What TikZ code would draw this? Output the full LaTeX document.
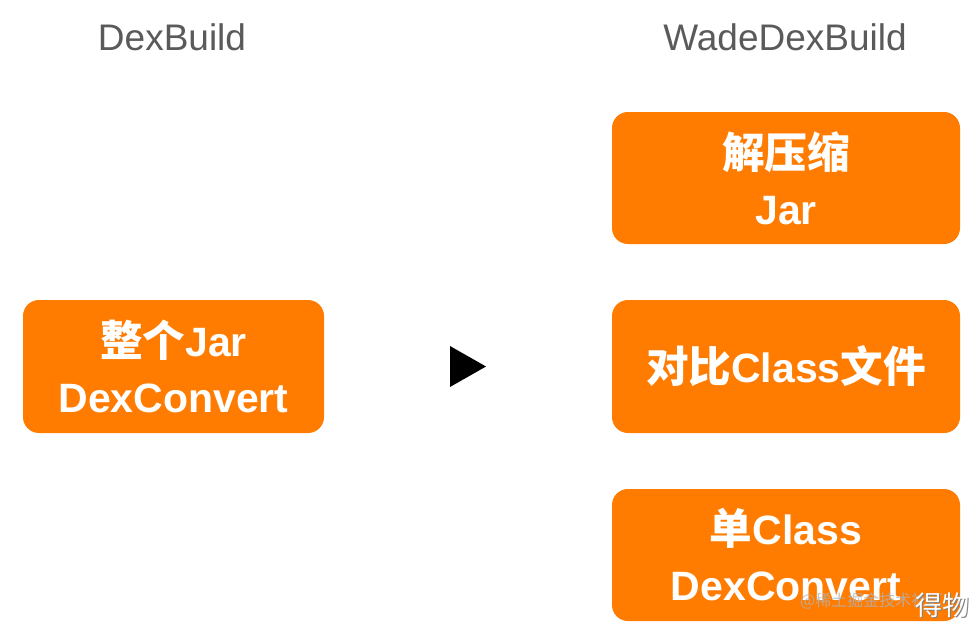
\documentclass[tikz,border=0pt]{standalone}
\usepackage{fontspec}
\setmainfont{Liberation Sans}
\newfontfamily\cjk{Noto Sans CJK SC}[Scale=1.04]
\newfontfamily\cjkwm{Noto Sans CJK SC}
\definecolor{boxorange}{HTML}{FF7C00}
\definecolor{titlegray}{HTML}{5A5A5A}
\begin{document}
\begin{tikzpicture}[x=1pt,y=-1pt,
  box/.style={fill=boxorange, draw=none, rounded corners=16pt, inner sep=0pt,
    text=white, align=center, font=\bfseries\fontsize{41}{56}\selectfont},
  title/.style={text=titlegray, inner sep=0pt, font=\fontsize{37}{40}\selectfont}]
\useasboundingbox (0,0) rectangle (979,629);
\node[title, anchor=base] (t1) at (172,50) {DexBuild};
\node[title, anchor=base] (t2) at (785,50) {WadeDexBuild};
\node[box, minimum width=301pt, minimum height=133pt] (a) at (173.5,366.5) {{\cjk 整个}Jar\\DexConvert};
\node[box, minimum width=348pt, minimum height=132pt] (b1) at (786,178) {{\cjk 解压缩}\\Jar};
\node[box, minimum width=348pt, minimum height=133pt] (b2) at (786,366.5) {{\cjk 对比}Class{\cjk 文件}};
\node[box, minimum width=348pt, minimum height=132pt] (b3) at (786,555) {{\cjk 单}Class\\DexConvert};
\fill[black] (450,346) -- (486,366.5) -- (450,387) -- cycle;
\node[inner sep=0pt, anchor=base west, text=gray!60, opacity=0.8, font=\cjkwm\fontsize{16}{20}\selectfont] (wm) at (800,606) {@稀土掘金技术社区};
\node[inner sep=0pt, anchor=base west, text=gray, font=\cjkwm\fontsize{27}{30}\selectfont] (wm2s) at (916.5,616.5) {得物};
\node[inner sep=0pt, anchor=base west, text=white, font=\cjkwm\fontsize{27}{30}\selectfont] (wm2) at (915,615) {得物};
\end{tikzpicture}
\end{document}
